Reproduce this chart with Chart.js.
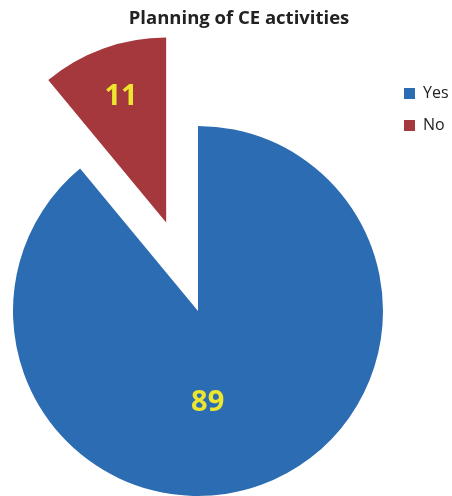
<!DOCTYPE html>
<html>
<head>
<meta charset="utf-8">
<script src="https://cdn.jsdelivr.net/npm/chart.js@4"></script>
<style>
  html, body { margin: 0; padding: 0; background: #fff; overflow: hidden; }
  #wrap { width: 452px; height: 496px; overflow: hidden; position: relative; }
  #wrap canvas { position: absolute; left: 0; top: 0; }
</style>
</head>
<body>
<div id="wrap"><canvas id="c" width="480" height="560"></canvas></div>
<script>
// Survey answers (percent of respondents)
const categories = ['Yes', 'No'];
const percentages = [89, 11];
const titleText = 'Planning of CE activities';

// Slice styling
const sliceColors = ['#2C6CB2', '#A5383C'];
const explodeDistance = [0, 94];      // px pulled out from the centre
const labelRadius = [0.5, 0.72];      // fraction of radius for value labels
const labelAngleShift = [13.8, 0];    // degrees, nudges label around the slice

const FONT = '"Open Sans", Lato, sans-serif';

// Pull selected slices away from the pie centre along their mid angle
const explodePlugin = {
  id: 'explodeSlices',
  afterDatasetUpdate(chart, args) {
    args.meta.data.forEach((arc, i) => {
      const d = explodeDistance[i] || 0;
      if (!d) return;
      const mid = (arc.startAngle + arc.endAngle) / 2;
      arc.x += Math.cos(mid) * d;
      arc.y += Math.sin(mid) * d;
    });
  }
};

// Value labels drawn inside each slice
const valueLabels = {
  id: 'valueLabels',
  afterDatasetsDraw(chart) {
    const ctx = chart.ctx;
    const meta = chart.getDatasetMeta(0);
    const values = chart.data.datasets[0].data;
    ctx.save();
    ctx.font = 'bold 29px ' + FONT;
    ctx.fillStyle = '#EEE52E';
    ctx.textAlign = 'center';
    ctx.textBaseline = 'middle';
    meta.data.forEach((arc, i) => {
      const p = arc.getProps(['x', 'y', 'startAngle', 'endAngle', 'outerRadius'], true);
      const a = (p.startAngle + p.endAngle) / 2 + labelAngleShift[i] * Math.PI / 180;
      const r = p.outerRadius * labelRadius[i];
      ctx.fillText(String(values[i]), p.x + Math.cos(a) * r, p.y + Math.sin(a) * r);
    });
    ctx.restore();
  }
};

// Legend entries with trailing room so the legend column has a fixed width
const pieLabels = Chart.overrides.pie.plugins.legend.labels.generateLabels;
function legendItems(chart) {
  return pieLabels(chart).map(item => Object.assign(item, { text: item.text + '\u2003\u2003' }));
}

new Chart(document.getElementById('c'), {
  type: 'pie',
  data: {
    labels: categories,
    datasets: [{
      data: percentages,
      backgroundColor: sliceColors,
      borderWidth: 0,
      hoverOffset: 0
    }]
  },
  options: {
    responsive: false,
    animation: false,
    events: [],
    devicePixelRatio: 1,
    radius: 185,
    layout: { padding: { left: 8, right: 10, top: 0, bottom: 7.5 } },
    plugins: {
      title: {
        display: true,
        text: titleText,
        color: '#222',
        font: { family: FONT, size: 18.5, weight: 'bold', lineHeight: 1.2 },
        padding: { top: 7.5, bottom: 39.8 }
      },
      legend: {
        position: 'right',
        align: 'start',
        fullSize: false,
        maxWidth: 82,
        labels: {
          boxWidth: 11,
          boxHeight: 11,
          padding: 16,
          color: '#222',
          font: { family: FONT, size: 16 },
          generateLabels: legendItems
        }
      },
      tooltip: { enabled: false }
    }
  },
  plugins: [explodePlugin, valueLabels]
});
</script>
</body>
</html>
